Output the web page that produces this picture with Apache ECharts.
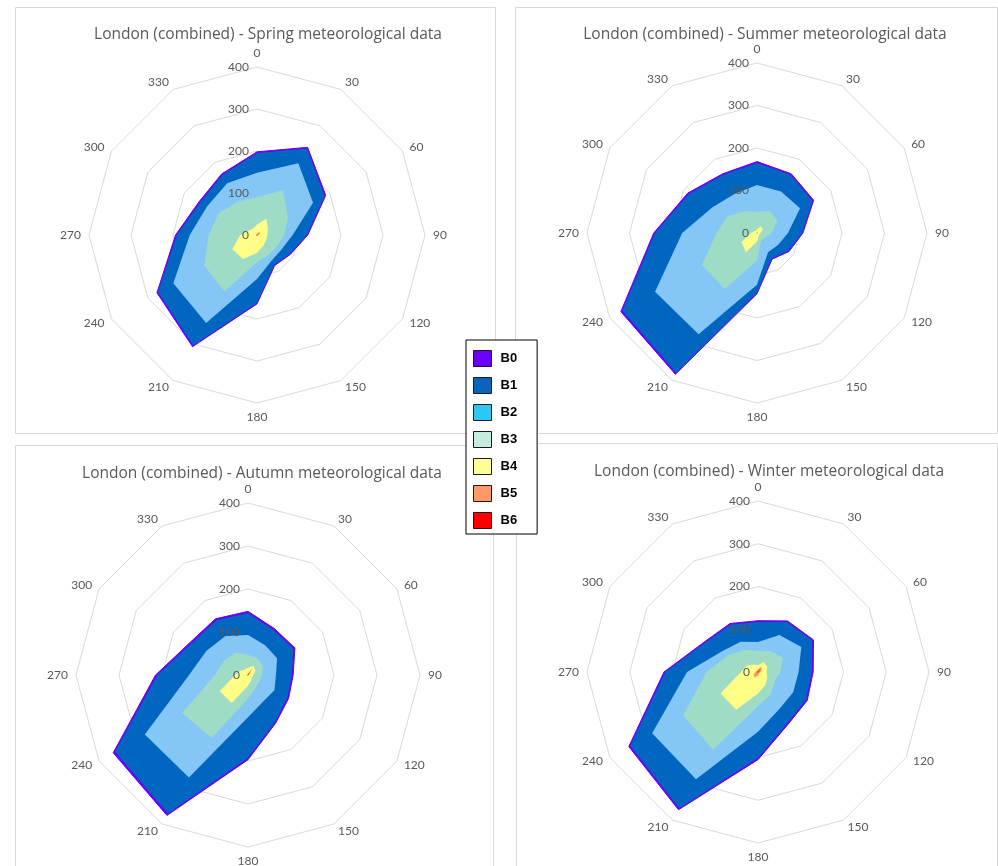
<!DOCTYPE html>
<html>
<head>
<meta charset="utf-8">
<script src="https://cdn.jsdelivr.net/npm/echarts@6/dist/echarts.min.js"></script>
<style>
html,body{margin:0;padding:0;background:#fff;}
#chart{width:998px;height:866px;}
</style>
</head>
<body>
<div id="chart"></div>
<script>
// Wind directions (degrees), clockwise from north
var directions = [0, 30, 60, 90, 120, 150, 180, 210, 240, 270, 300, 330];
var radialTicks = [0, 100, 200, 300, 400];
var bands = ['B0', 'B1', 'B2', 'B3', 'B4', 'B5', 'B6'];
var titles = [
  'London (combined) - Spring meteorological data',
  'London (combined) - Summer meteorological data',
  'London (combined) - Autumn meteorological data',
  'London (combined) - Winter meteorological data'
];

// Spring
var springB0 = [198, 241, 189, 121, 92, 84, 164, 307, 275, 194, 159, 168];
var springB1 = [195, 238, 186, 119, 90, 82, 162, 304, 272, 191, 156, 165];
var springB2 = [148, 197, 154, 85, 68, 70, 105, 242, 230, 160, 137, 142];
var springB3 = [90, 124, 85, 65, 55, 55, 65, 155, 145, 115, 105, 92];
var springB4 = [25, 45, 30, 25, 25, 30, 43, 66, 68, 40, 22, 18];
var springB5 = [3, 8, 10, 3, 2, 2, 2, 3, 3, 2, 2, 2];
var springB6 = [1, 2, 3, 1, 1, 1, 1, 1, 1, 1, 1, 1];

// Summer
var summerB0 = [168, 161, 154, 108, 87, 71, 143, 384, 370, 243, 188, 161];
var summerB1 = [165, 158, 151, 106, 85, 69, 141, 380, 366, 240, 185, 158];
var summerB2 = [113, 113, 117, 73, 57, 52, 122, 275, 277, 176, 121, 106];
var summerB3 = [50, 60, 56, 35, 22, 20, 65, 152, 150, 95, 80, 59];
var summerB4 = [8, 18, 16, 8, 6, 8, 20, 52, 42, 14, 8, 6];
var summerB5 = [2, 3, 3, 1, 1, 1, 1, 2, 2, 1, 1, 1];
var summerB6 = [1, 1, 1, 0, 0, 0, 0, 1, 1, 0, 0, 0];

// Autumn
var autumnB0 = [148, 124, 126, 105, 109, 129, 197, 377, 362, 215, 154, 151];
var autumnB1 = [144, 120, 122, 102, 106, 126, 193, 372, 357, 211, 150, 147];
var autumnB2 = [93, 80, 78, 65, 71, 71, 98, 275, 277, 137, 112, 105];
var autumnB3 = [47, 45, 40, 33, 30, 35, 55, 169, 177, 77, 65, 60];
var autumnB4 = [16, 25, 20, 12, 10, 15, 25, 75, 76, 30, 20, 15];
var autumnB5 = [2, 20, 5, 2, 1, 1, 2, 3, 3, 2, 2, 2];
var autumnB6 = [1, 8, 2, 1, 0, 0, 1, 1, 1, 1, 1, 1];

// Winter
var winterB0 = [120, 138, 150, 129, 133, 141, 205, 372, 349, 220, 143, 131];
var winterB1 = [117, 135, 147, 126, 130, 138, 201, 368, 345, 217, 140, 128];
var winterB2 = [70, 100, 117, 95, 95, 100, 140, 290, 286, 166, 97, 82];
var winterB3 = [50, 57, 67, 52, 45, 60, 80, 210, 202, 120, 80, 60];
var winterB4 = [16, 27, 25, 20, 25, 35, 50, 102, 101, 40, 30, 20];
var winterB5 = [6, 15, 10, 5, 4, 5, 8, 15, 12, 6, 5, 4];
var winterB6 = [2, 8, 3, 1, 1, 1, 2, 3, 2, 1, 1, 1];

var seasons = [
  [springB0, springB1, springB2, springB3, springB4, springB5, springB6],
  [summerB0, summerB1, summerB2, summerB3, summerB4, summerB5, summerB6],
  [autumnB0, autumnB1, autumnB2, autumnB3, autumnB4, autumnB5, autumnB6],
  [winterB0, winterB1, winterB2, winterB3, winterB4, winterB5, winterB6]
];

var legendColors = ['#6a00f8', '#0a64bc', '#2ec6f4', '#c4ecdf', '#ffff99', '#ff9966', '#ff0000'];
var fillColors   = ['#6a00f8', '#0066c0', '#84c6f6', '#9edcc6', '#ffff88', '#ff9955', '#ff1a00'];

var layouts = [
  {cx: 257, cy: 235, r: 168, tx: 263, ty: 22, box: [15, 7, 480, 426]},
  {cx: 757, cy: 233, r: 170, tx: 760, ty: 22, box: [515, 7, 482, 426]},
  {cx: 248, cy: 675, r: 172, tx: 257, ty: 461, box: [15, 445, 478, 430]},
  {cx: 758, cy: 672, r: 171, tx: 764, ty: 459, box: [516, 443, 481, 430]}
];

var FONT = 'Lato, "Open Sans", sans-serif';
var TITLE_FONT = '"Open Sans", "Noto Sans", sans-serif';

// radar indicators go counter-clockwise in ECharts: build a counter-clockwise order
var ccwIdx = directions.map(function (d, i) { return (directions.length - i) % directions.length; });

function indicators(withLabel) {
  return ccwIdx.map(function (k, j) {
    var ind = {name: String(directions[k]), min: radialTicks[0], max: radialTicks[radialTicks.length - 1]};
    if (withLabel && j === 0) ind.axisLabel = {show: true};
    return ind;
  });
}

var radars = [];
// grid radars (beneath the fills)
layouts.forEach(function (L) {
  radars.push({
    center: [L.cx, L.cy],
    radius: L.r,
    startAngle: 90,
    shape: 'polygon',
    splitNumber: radialTicks.length - 1,
    indicator: indicators(false),
    nameGap: 8,
    axisName: {color: '#595959', fontSize: 12, fontFamily: FONT},
    splitLine: {lineStyle: {color: '#d9d9d9', width: 1}},
    splitArea: {show: false},
    axisLine: {show: false},
    axisTick: {show: false},
    axisLabel: {show: false}
  });
});
// label radars (value labels drawn above the fills)
layouts.forEach(function (L) {
  radars.push({
    center: [L.cx, L.cy],
    radius: L.r,
    startAngle: 90,
    shape: 'polygon',
    z: 10,
    splitNumber: radialTicks.length - 1,
    indicator: indicators(true),
    axisName: {show: false},
    splitLine: {show: false},
    splitArea: {show: false},
    axisLine: {show: false},
    axisTick: {show: false},
    axisLabel: {show: false, color: '#595959', fontSize: 12, fontFamily: FONT, margin: 8, showMinLabel: true, showMaxLabel: true}
  });
});

var series = seasons.map(function (s, si) {
  return {
    type: 'radar',
    radarIndex: si,
    symbol: 'none',
    silent: true,
    z: 2,
    data: s.map(function (vals, bi) {
      return {
        name: bands[bi],
        value: ccwIdx.map(function (k) { return vals[k]; }),
        itemStyle: {color: legendColors[bi]},
        lineStyle: bi === 0 ? {color: '#6a00f8', width: 1} : {width: 0, color: fillColors[bi]},
        areaStyle: {color: fillColors[bi], opacity: 1}
      };
    })
  };
});

var graphics = layouts.map(function (L) {
  return {
    type: 'rect', z: -10, silent: true,
    shape: {x: L.box[0] + 0.5, y: L.box[1] + 0.5, width: L.box[2], height: L.box[3]},
    style: {fill: '#fff', stroke: '#d9d9d9', lineWidth: 1}
  };
});

var option = {
  animation: false,
  backgroundColor: '#fff',
  title: layouts.map(function (L, i) {
    return {
      text: titles[i], left: L.tx, top: L.ty, textAlign: 'center',
      textStyle: {color: '#595959', fontSize: 15.5, fontWeight: 'normal', fontFamily: TITLE_FONT}
    };
  }),
  graphic: graphics,
  legend: {
    data: bands,
    orient: 'vertical',
    left: 466,
    top: 340,
    icon: 'rect',
    itemWidth: 18,
    itemHeight: 16,
    itemGap: 10,
    padding: [10, 20, 5, 7],
    borderColor: '#000',
    borderWidth: 1,
    backgroundColor: '#fff',
    selectedMode: false,
    z: 20,
    itemStyle: {borderColor: '#1a1a1a', borderWidth: 1},
    textStyle: {color: '#000', fontWeight: 'bold', fontSize: 13, fontFamily: '"Liberation Sans", Arial, sans-serif', padding: [0, 0, 0, 4]}
  },
  radar: radars,
  series: series
};

var chart = echarts.init(document.getElementById('chart'), null, {renderer: 'canvas'});
chart.setOption(option);
</script>
</body>
</html>
